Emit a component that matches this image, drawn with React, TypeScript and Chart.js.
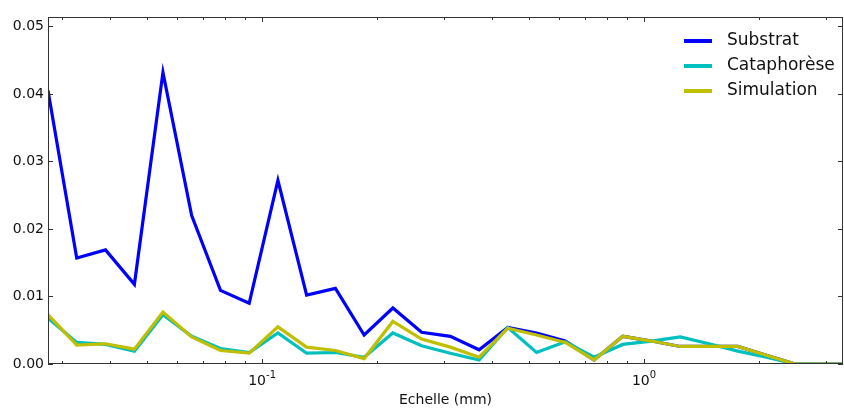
import React, { useEffect, useRef } from "react";
import { Chart, registerables } from "chart.js";

Chart.register(...registerables);

const scales_mm = [0.0275, 0.0327, 0.0389, 0.0463, 0.055, 0.0654, 0.0778, 0.0925, 0.11, 0.1308, 0.1556, 0.185, 0.22, 0.2616, 0.3111, 0.37, 0.44, 0.5232, 0.6223, 0.74, 0.88, 1.0465, 1.2445, 1.48, 1.76, 2.093, 2.489, 2.96, 3.52];
const substrat = [0.0405, 0.0157, 0.0169, 0.0118, 0.0432, 0.022, 0.0109, 0.009, 0.0272, 0.0102, 0.0112, 0.0043, 0.0083, 0.0047, 0.0041, 0.0021, 0.0054, 0.0046, 0.0034, 0.0006, 0.0041, 0.0034, 0.0026, 0.0026, 0.0026, 0.0013, 0, 0, 0];
const cataphorese = [0.0068, 0.0032, 0.0029, 0.0019, 0.0073, 0.0041, 0.0023, 0.0017, 0.0046, 0.0016, 0.0017, 0.001, 0.0046, 0.0027, 0.0016, 0.0006, 0.0054, 0.0017, 0.0033, 0.001, 0.0029, 0.0034, 0.004, 0.003, 0.0019, 0.001, 0, 0, 0];
const simulation = [0.0073, 0.0028, 0.003, 0.0022, 0.0077, 0.004, 0.002, 0.0016, 0.0055, 0.0025, 0.002, 0.0008, 0.0063, 0.0037, 0.0025, 0.001, 0.0053, 0.0043, 0.0032, 0.0006, 0.0041, 0.0034, 0.0026, 0.0026, 0.0026, 0.0013, 0, 0, 0];

const seriesNames = ["Substrat", "Cataphorèse", "Simulation"];
const seriesColors = ["#0000ff", "#00bfbf", "#bfbf00"];
const yTicks = [0, 0.01, 0.02, 0.03, 0.04, 0.05];
const xMajorTicks = [0.1, 1];
const xTickExponents = ["-1", "0"];
const xMinorTicks = [0.03, 0.04, 0.05, 0.06, 0.07, 0.08, 0.09, 0.2, 0.3, 0.4, 0.5, 0.6, 0.7, 0.8, 0.9, 2, 3];
const X_MIN = 0.0275;
const X_MAX = 3.32;
const Y_MAX = 0.0514;
const FONT = "'DejaVu Sans', sans-serif";

const framePlugin = {
  id: "frame",
  afterDraw(chart: any) {
    const { ctx, chartArea: a, scales } = chart;
    const xs = scales.x;
    const ys = scales.y;
    ctx.save();
    ctx.strokeStyle = "#333";
    ctx.lineWidth = 1;
    ctx.strokeRect(a.left + 0.5, a.top + 0.5, a.right - a.left - 1, a.bottom - a.top - 1);
    ctx.beginPath();
    const tick = (v: number, len: number) => {
      const px = Math.round(xs.getPixelForValue(v)) + 0.5;
      ctx.moveTo(px, a.bottom);
      ctx.lineTo(px, a.bottom - len);
      ctx.moveTo(px, a.top);
      ctx.lineTo(px, a.top + len);
    };
    xMajorTicks.forEach((v) => tick(v, 5));
    xMinorTicks.forEach((v) => tick(v, 3));
    yTicks.forEach((v) => {
      const py = Math.round(ys.getPixelForValue(v)) + 0.5;
      ctx.moveTo(a.left, py);
      ctx.lineTo(a.left + 5, py);
      ctx.moveTo(a.right, py);
      ctx.lineTo(a.right - 5, py);
    });
    ctx.stroke();

    // x tick labels: 10 with superscript exponent
    ctx.fillStyle = "#111";
    ctx.textBaseline = "alphabetic";
    ctx.textAlign = "left";
    xMajorTicks.forEach((v, i) => {
      const px = xs.getPixelForValue(v);
      ctx.font = `14px ${FONT}`;
      const wb = ctx.measureText("10").width;
      ctx.font = `10px ${FONT}`;
      const we = ctx.measureText(xTickExponents[i]).width;
      const x0 = px - (wb + we) / 2;
      ctx.font = `14px ${FONT}`;
      ctx.fillText("10", x0, a.bottom + 21);
      ctx.font = `10px ${FONT}`;
      ctx.fillText(xTickExponents[i], x0 + wb, a.bottom + 14);
    });

    // legend
    const lx = 684;
    const ly = [41, 66, 91];
    ctx.font = `17px ${FONT}`;
    ctx.textBaseline = "middle";
    ctx.textAlign = "left";
    seriesNames.forEach((name, i) => {
      ctx.strokeStyle = seriesColors[i];
      ctx.lineWidth = 4;
      ctx.beginPath();
      ctx.moveTo(lx, ly[i]);
      ctx.lineTo(lx + 28, ly[i]);
      ctx.stroke();
      ctx.fillStyle = "#111";
      ctx.fillText(name, lx + 43, ly[i]);
    });
    ctx.restore();
  },
};

export default function App() {
  const ref = useRef<HTMLCanvasElement>(null);
  useEffect(() => {
    if (!ref.current) return;
    const series = [substrat, cataphorese, simulation];
    const chart = new Chart(ref.current, {
      type: "line",
      data: {
        datasets: series.map((s, i) => ({
          label: seriesNames[i],
          data: s.map((v, j) => ({ x: scales_mm[j], y: v })),
          borderColor: seriesColors[i],
          backgroundColor: seriesColors[i],
          borderWidth: 3.2,
          pointRadius: 0,
          tension: 0,
          fill: false,
          order: 2 - i,
        })),
      },
      options: {
        responsive: false,
        animation: false,
        layout: { padding: { top: 17, right: 1, left: 0, bottom: 0 } },
        plugins: { legend: { display: false }, tooltip: { enabled: false } },
        scales: {
          x: {
            type: "logarithmic",
            min: X_MIN,
            max: X_MAX,
            grid: { display: false, drawTicks: false },
            border: { display: false },
            afterBuildTicks: (s: any) => {
              s.ticks = xMajorTicks.map((v) => ({ value: v }));
            },
            afterFit: (s: any) => {
              s.height = 46;
            },
            ticks: {
              autoSkip: false,
              maxRotation: 0,
              padding: 7,
              font: { family: FONT, size: 14 },
              callback: () => "",
            },
            title: {
              display: true,
              text: "Echelle (mm)",
              color: "#111",
              font: { family: FONT, size: 14 },
              padding: { top: 0, bottom: 1 },
            },
          },
          y: {
            min: 0,
            max: Y_MAX,
            grid: { display: false, drawTicks: false },
            border: { display: false },
            afterBuildTicks: (s: any) => {
              s.ticks = yTicks.map((v) => ({ value: v }));
            },
            afterFit: (s: any) => {
              s.width = 48;
            },
            ticks: {
              padding: 4,
              color: "#111",
              font: { family: FONT, size: 14 },
              callback: (v: any) => Number(v).toFixed(2),
            },
          },
        },
      },
      plugins: [framePlugin],
    } as any);
    return () => chart.destroy();
  }, []);
  return (
    <div style={{ position: "fixed", left: 0, top: 0, width: 844, height: 410, background: "#fff" }}>
      <canvas ref={ref} width={844} height={410} style={{ width: 844, height: 410 }} />
    </div>
  );
}
